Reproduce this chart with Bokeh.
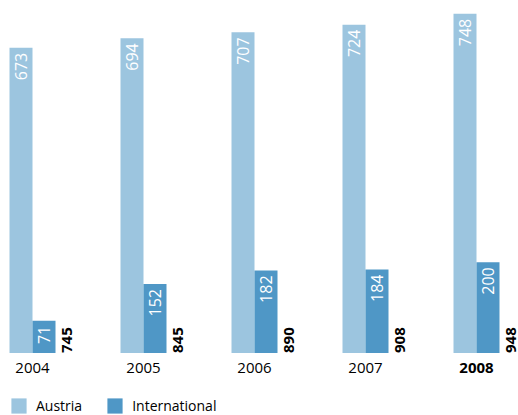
import math
from bokeh.plotting import figure
from bokeh.models import ColumnDataSource, Range1d, Legend, LegendItem
from bokeh.core.properties import value
from bokeh.embed import file_html
from bokeh.resources import INLINE

years = ["2004", "2005", "2006", "2007", "2008"]
austria = [673, 694, 707, 724, 748]
international = [71, 152, 182, 184, 200]
totals = [745, 845, 890, 908, 948]
year_styles = ["normal", "normal", "normal", "normal", "bold"]

AUT_COLOR = "#9cc5df"
INT_COLOR = "#4f97c6"
FONT = "Open Sans"

W, H = 518, 415
GROUP_PX = 111.0          # pixels per group
BAR_PX = 23.0             # bar width in pixels
UPP = 2.205               # data units per pixel (vertical)
BASE_PX = 352.5           # baseline distance from top of canvas
FIRST_PX = 32.0           # first group centre from left

bw = BAR_PX / GROUP_PX
idx = list(range(len(years)))
x_start = -FIRST_PX / GROUP_PX
y_start = -(H - BASE_PX) * UPP

src = ColumnDataSource(dict(
    idx=idx,
    x_a=[i - bw / 2 for i in idx],
    x_i=[i + bw / 2 for i in idx],
    x_t=[i + 34.5 / GROUP_PX for i in idx],
    aut=austria,
    intl=international,
    aut_lbl=[str(v) for v in austria],
    int_lbl=[str(v) for v in international],
    tot_lbl=[str(v) for v in totals],
    aut_y=[v - 5 * UPP for v in austria],
    int_y=[v - 5 * UPP for v in international],
    zero=[0] * len(years),
    yr_y=[-14.5 * UPP] * len(years),
    years=years,
    ystyle=year_styles,
))

p = figure(width=W, height=H, output_backend="svg", toolbar_location=None,
           x_range=Range1d(x_start, x_start + W / GROUP_PX),
           y_range=Range1d(y_start, y_start + H * UPP),
           min_border=0, outline_line_color=None)
p.xaxis.visible = False
p.yaxis.visible = False
p.grid.visible = False
p.background_fill_color = "white"

ra = p.vbar(x="x_a", top="aut", bottom=0, width=bw, source=src,
            fill_color=AUT_COLOR, line_color=None)
ri = p.vbar(x="x_i", top="intl", bottom=0, width=bw, source=src,
            fill_color=INT_COLOR, line_color=None)

common = dict(angle=math.pi / 2, text_baseline="middle", text_font=value(FONT))
p.text(x="x_a", y="aut_y", text="aut_lbl", source=src, text_align="right",
       text_color="white", text_font_size="16px", **common)
p.text(x="x_i", y="int_y", text="int_lbl", source=src, text_align="right",
       text_color="white", text_font_size="16px", **common)
p.text(x="x_t", y="zero", text="tot_lbl", source=src, text_align="left",
       text_color="black", text_font_size="15px", text_font_style="bold", **common)

p.text(x="idx", y="yr_y", text="years", source=src, text_align="center",
       text_baseline="middle", text_font=value(FONT), text_font_size="15px",
       text_font_style="ystyle", text_color="black")

legend = Legend(items=[LegendItem(label="Austria", renderers=[ra]),
                       LegendItem(label="International", renderers=[ri])],
                orientation="horizontal", location=(9, 0),
                glyph_width=19, glyph_height=19, label_standoff=8,
                spacing=23, padding=0, margin=0, border_line_color=None,
                background_fill_alpha=0,
                label_text_font=FONT, label_text_font_size="14px",
                label_text_color="black")
p.add_layout(legend)

open("out.html", "w").write(file_html(p, INLINE))
